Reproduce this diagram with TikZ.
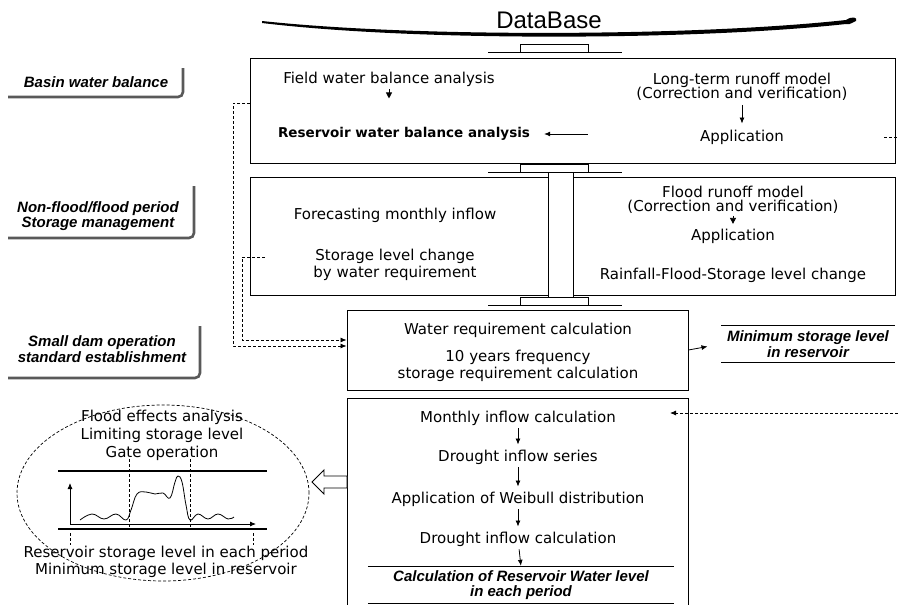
\documentclass[tikz,border=0pt]{standalone}
\usepackage{fontspec}
\setmainfont{DejaVu Sans}
\newfontfamily\tagfont{Liberation Sans}
\usepackage{tikz}
\usetikzlibrary{arrows.meta, positioning, calc}

\tikzset{
  txt/.style={font=\fontsize{15}{16.5}\selectfont, inner sep=0pt},
  tagtxt/.style={font=\tagfont\bfseries\itshape\fontsize{15}{15.5}\selectfont, align=center, inner sep=0pt},
  box/.style={draw, line width=0.9pt, inner sep=0pt},
  arr/.style={-{Latex[length=6pt,width=5pt]}, line width=0.8pt},
  tritip/.style={-{Triangle[length=6pt,width=6pt]}, line width=0.8pt},
  fb/.style={densely dashed, line width=0.7pt},
  shadeline/.style={line width=2.6pt, black!65, rounded corners=5pt},
}

\begin{document}
\begin{tikzpicture}[x=1pt, y=-1pt]
    \useasboundingbox (0,0) rectangle (898,605);

    % database title
    \node[font=\tagfont\fontsize{24}{26}\selectfont, inner sep=0pt] (dbase) at (549,20) {DataBase};
    \fill (262,21) .. controls (420,38) and (700,36) .. (846,20)
      .. controls (852,16) and (858,17) .. (856,21)
      .. controls (850,24) and (848,25) .. (846,24)
      .. controls (700,40) and (420,42) .. (262,23) -- cycle;
    \foreach \py in {52,172,305} {
      \draw[line width=1pt] (488,\py) -- (622,\py);
      \draw[line width=1pt] (520,\py) rectangle (588,\py-8);
    }

    % side tags
    \foreach \yb/\yt/\xr in {97/68/183, 238/186/194, 378/326/200} {
      \draw[shadeline] (8,\yb) -| (\xr,\yt);
    }
    \node[tagtxt] (tagA) at (96,82) {Basin water balance};
    \node[tagtxt] (tagB) at (98,216) {Non-flood/flood period\\Storage management};
    \node[tagtxt] (tagC) at (102,349) {Small dam operation\\standard establishment};

    % basin water balance
    \node[box, minimum width=645, minimum height=105] (tbox) at (572.5,110.5) {};
    \node[txt] (field) at (389,79) {Field water balance analysis};
    \node[txt, font=\bfseries\fontsize{13.5}{16}\selectfont] (resv) at (404,134) {Reservoir water balance analysis};
    \node[txt] (ltm) at (742,80) {Long-term runoff model};
    \node[txt] (ltc) at (742,94) {(Correction and verification)};
    \node[txt] (applA) at (742,137) {Application};
    \draw[tritip] (field.south) ++(0,3) -- ++(0,9);
    \draw[arr, shorten <=4pt, shorten >=6pt] (ltc) -- (applA);
    \draw[arr, shorten <=112pt, shorten >=14pt] (applA.west |- resv.east) -- (resv.east);

    % storage management
    \node[box, minimum width=298, minimum height=118] (mlbox) at (399,236) {};
    \node[box, minimum width=322, minimum height=118] (mrbox) at (734,236) {};
    \draw[line width=0.9pt] (548,172) -- (548,297);
    \draw[line width=0.9pt] (573,172) -- (573,297);
    \node[txt] (fcast) at (395,215) {Forecasting monthly inflow};
    \node[txt, align=center] (stor) at (395,265) {Storage level change\\by water requirement};
    \node[txt] (frm) at (733,192) {Flood runoff model};
    \node[txt] (frc) at (733,207) {(Correction and verification)};
    \node[txt] (applB) at (733,236) {Application};
    \node[txt] (rain) at (733,275) {Rainfall-Flood-Storage level change};
    \draw[tritip] (frc.south) ++(0,2) -- ++(0,8);

    % water requirement
    \node[box, minimum width=341, minimum height=80] (wbox) at (517.5,350) {};
    \node[txt] (wreq) at (518,330) {Water requirement calculation};
    \node[txt, align=center] (tenyr) at (518,366) {10 years frequency\\storage requirement calculation};
    \node[tagtxt, minimum width=173, minimum height=37] (minlbl) at (808,344) {Minimum storage level\\in reservoir};
    \draw[line width=1.3pt] (minlbl.north west) -- (minlbl.north east);
    \draw[line width=1pt] (minlbl.south west) -- (minlbl.south east);
    \draw[arr, shorten >=14pt] (wbox.east) -- (minlbl.west);

    % feedback lines
    \coordinate (fbA) at (250,103);
    \coordinate (fbB) at (265,257);
    \draw[fb, arr] (fbA) -- ++(-17,0) |- ($(wbox.west)+(0,-4)$);
    \draw[fb, arr] (fbB) -- ++(-23,0) |- ($(wbox.west)+(0,-10)$);
    \coordinate (stubA) at (884,137);
    \coordinate (stubB) at (898,137);
    \draw[fb] (stubA) -- (stubB);
    \coordinate (inR) at (898,413);
    \coordinate (inL) at (670,413);
    \draw[fb, arr] (inR) -- (inL);

    % drought inflow
    \draw[line width=0.9pt] (347,605) |- (688,398) -- (688,605);
    \node[txt] (monthly) at (518,418) {Monthly inflow calculation};
    \node[txt] (series) at (518,457) {Drought inflow series};
    \node[txt] (weib) at (518,499) {Application of Weibull distribution};
    \node[txt] (dcalc) at (518,539) {Drought inflow calculation};
    \node[tagtxt, minimum width=306, minimum height=36] (calc) at (521,585) {Calculation of Reservoir Water level\\in each period};
    \draw[line width=1.3pt] (calc.north west) -- (calc.north east);
    \draw[line width=1.3pt] (calc.south west) -- (calc.south east);
    \draw[arr, shorten <=3pt, shorten >=5pt] (monthly) -- (series);
    \draw[arr, shorten <=3pt, shorten >=5pt] (series) -- (weib);
    \draw[arr, shorten <=3pt, shorten >=5pt] (weib) -- (dcalc);
    \draw[arr, shorten <=3pt, shorten >=1pt] (dcalc) -- (calc.north);

    % operation standard sketch
    \draw[line width=0.9pt, fill=white] (312,482) -- (324,470) -- (324,476) -- (347,476)
      -- (347,488) -- (324,488) -- (324,494) -- cycle;
    \draw[fb] (163,493) ellipse [x radius=146pt, y radius=88pt];
    \node[txt] (eflood) at (162,417) {Flood effects analysis};
    \node[txt] (elimit) at (162,435) {Limiting storage level};
    \node[txt] (egate) at (162,453) {Gate operation};
    \node[txt] (eres) at (166,553) {Reservoir storage level in each period};
    \node[txt] (emin) at (166,570) {Minimum storage level in reservoir};
    \draw[line width=1.6pt] (58,471) -- (267,471);
    \draw[line width=1.6pt] (58,529) -- (267,529);
    \draw[arr] (70,524) -- (70,483);
    \draw[arr] (70,524) -- (256,524);
    \foreach \xv in {129,190} {
      \draw[fb] (\xv,459) -- (\xv,528);
    }
    \foreach \xv in {70,253} {
      \draw[fb] (\xv,533) -- (\xv,545);
    }
    \draw[line width=0.8pt] plot[smooth, tension=0.7] coordinates {(80,520) (92,514) (104,519)
      (116,514) (126,520) (131,510) (137,494) (146,492) (155,494) (163,493) (170,498)
      (175,482) (178,476) (182,482) (186,505) (190,520) (198,514) (208,519) (218,514)
      (228,519) (234,517)};
\end{tikzpicture}
\end{document}
